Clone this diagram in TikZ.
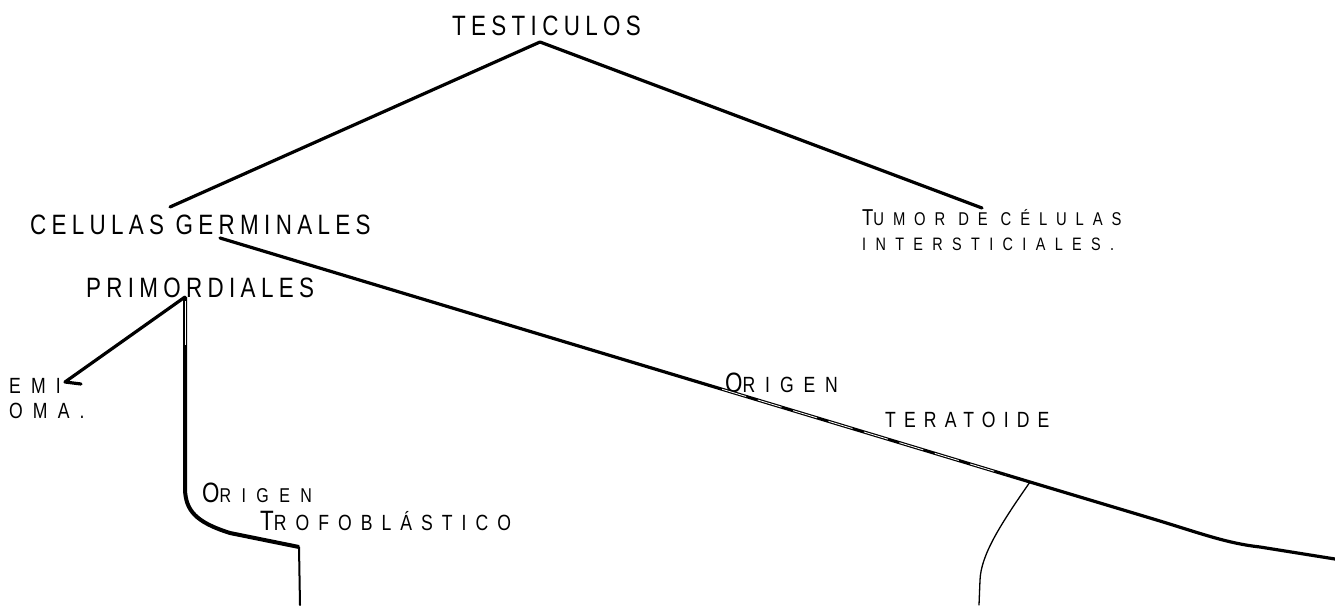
\documentclass[tikz,border=0pt]{standalone}
\usepackage{fontspec}
\setmainfont{Liberation Sans}[FakeStretch=0.8]
\usetikzlibrary{calc}
\newcommand{\fsz}[1]{\fontsize{#1}{#1}\selectfont}
\newcommand{\lsp}[1]{\addfontfeatures{LetterSpace=#1}}
\begin{document}
\begin{tikzpicture}[x=1pt,y=-1pt,
  lbl/.style={inner sep=0pt, anchor=base west},
  heavy/.style={line width=3.2pt, line cap=round, line join=round},
  medium/.style={line width=2pt, line cap=round, line join=round},
  fine/.style={line width=1.3pt, line cap=round},
  hollow/.style={white, line width=0.8pt}]
\useasboundingbox (0,0) rectangle (1335,605);

% labels
\node[lbl] (testiculos) at (452,35) {\lsp{19}\fsz{28}TESTICULOS};
\node[lbl] (celulas) at (30,234) {\lsp{19}\fsz{28}CELULAS GERMINALES};
\node[lbl] (tumor) at (862,225) {\lsp{48}\fsz{23}T\fsz{18.5}UMOR DE CÉLULAS};
\node[lbl] (inter) at (862,250) {\lsp{52}\fsz{18}INTERSTICIALES.};
\node[lbl] (prim) at (86,297) {\lsp{19}\fsz{28}PRIMORDIALES};
\node[lbl] (emi) at (9,393) {\lsp{46}\fsz{22}EMI};
\node[lbl] (oma) at (9,418) {\lsp{46}\fsz{22}OMA.};
\node[lbl] (orig1) at (202,502) {\lsp{52}\fsz{28}O\fsz{20}RIGEN};
\node[lbl] (trofo) at (260,530) {\lsp{41}\fsz{28}T\fsz{22}ROFOBLÁSTICO};
\node[lbl] (orig2) at (725,392) {\lsp{45}\fsz{28}O\fsz{22}RIGEN};
\node[lbl] (terat) at (885,427) {\lsp{37}\fsz{22}TERATOIDE};

% junctions
\coordinate (apex) at (540,42);
\coordinate (celL) at (170,207);
\coordinate (tumR) at (982,208);
\coordinate (gj) at (220,238);
\coordinate (tj) at (1030,482);
\coordinate (rend) at (1335,559);
\coordinate (pj) at (185,297);
\coordinate (emiEnd) at (65,382);
\coordinate (tbend) at (299,547);
\coordinate (tend) at (300,605);
\coordinate (bend2) at (979,605);

% connectors
\draw[heavy] (celL) -- (apex) -- (tumR);
\draw[heavy] (gj) -- (tj) -- (1150,518) .. controls (1200,533) and (1225,543) .. (1260,547) -- (rend);
\draw[hollow, dash pattern=on 25pt off 12pt] ($(gj)!0.62!(tj)$) -- ($(gj)!0.97!(tj)$);
\draw[heavy] (pj) -- (emiEnd) -- ++(16,2);
\draw[line width=4pt, line join=round] (pj) -- (185,490) .. controls (186,510) and (195,522) .. (230,533) -- (tbend);
\draw[hollow] (185,301) -- (185,345);
\draw[medium] (tbend) -- (tend);
\draw[fine] (tj) .. controls (1000,525) and (981,555) .. (980,580) -- (bend2);
\end{tikzpicture}
\end{document}
